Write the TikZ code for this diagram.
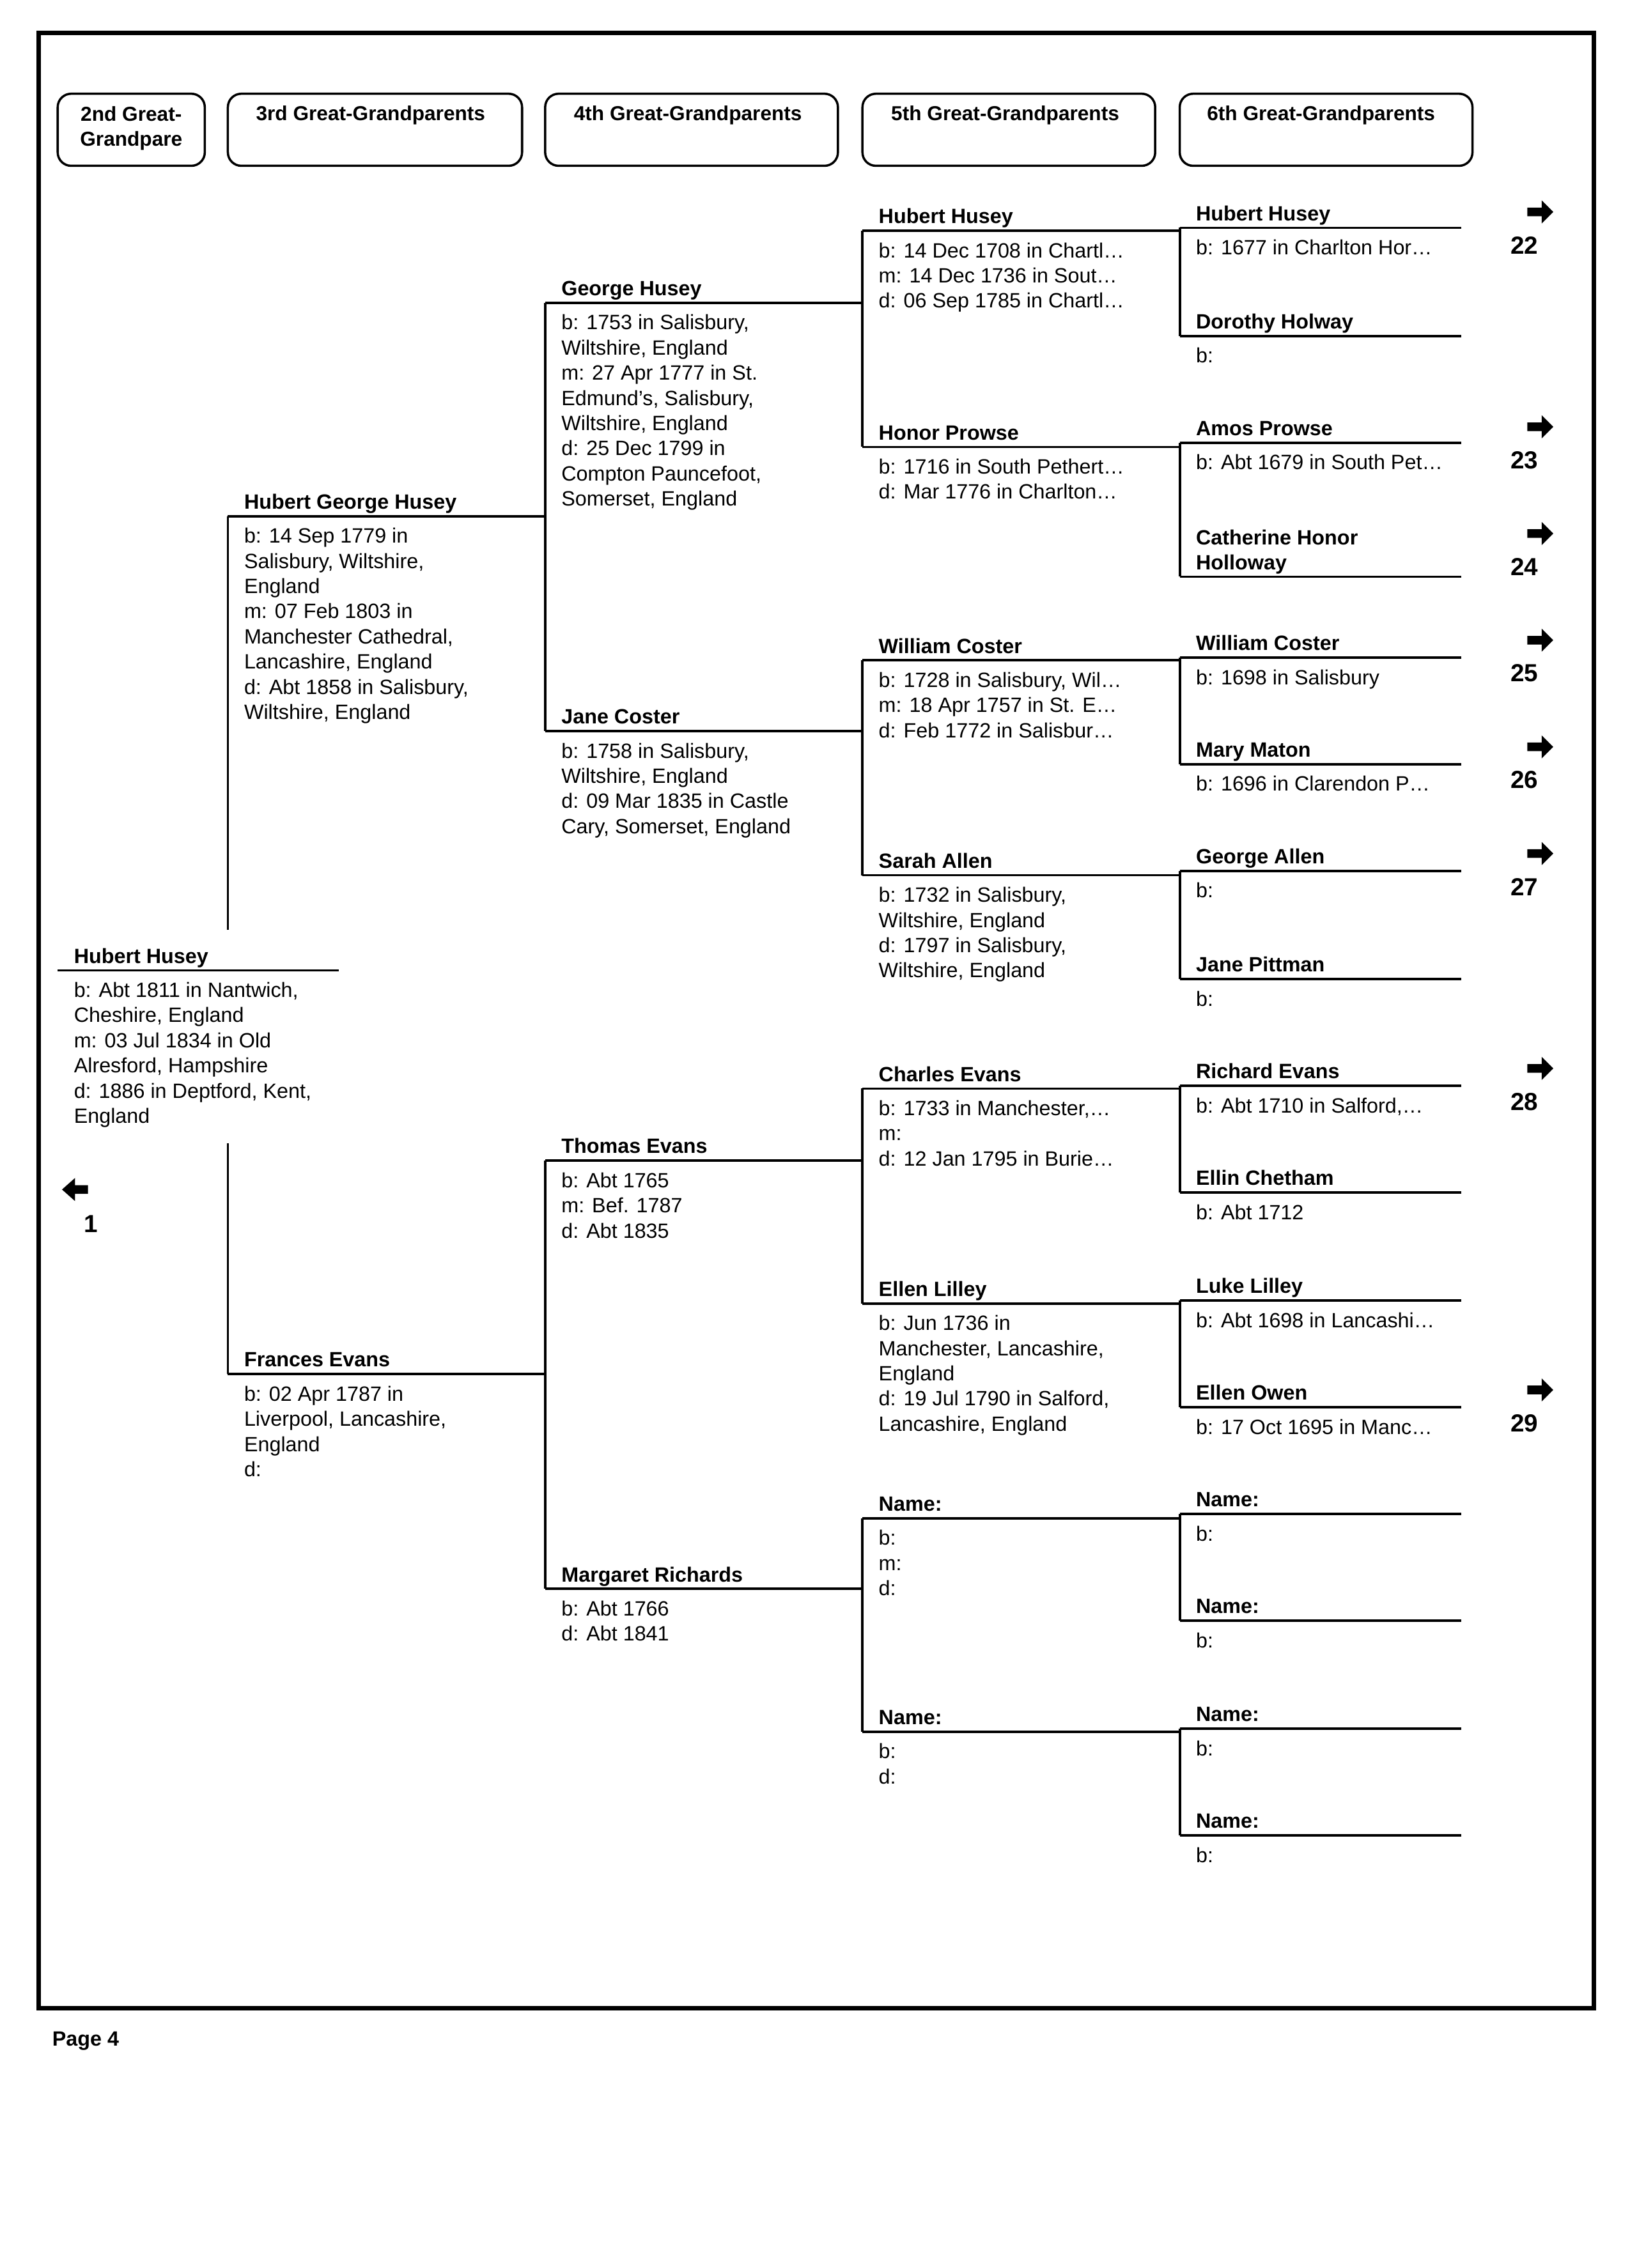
\documentclass[tikz,border=0pt]{standalone}
\usepackage{fontspec}
\setmainfont{Liberation Sans}
\usetikzlibrary{positioning}

% one person: id, left x, right x, line y, name, details
\newcommand\prsn[6]{%
  \coordinate (#1-l) at (#2,#4);
  \coordinate (#1-r) at (#3,#4);
  \draw[pline] (#1-l) -- (#1-r);
  \node[pname] (#1-n) at (#2+11,#4-5) {#5};
  \node[pinfo] (#1-i) at (#2+11,#4+8) {#6};}
% continuation arrow with page number
\newcommand\contarrow[3]{%
  \fill (#2-9,#3-3) -- (#2+1,#3-3) -- (#2+1,#3-8) -- (#2+9,#3) -- (#2+1,#3+8)
    -- (#2+1,#3+3) -- (#2-9,#3+3) -- cycle;
  \node[pnum] (pg#1) at (#2-11,#3+23) {#1};}

\tikzset{
  pline/.style={line width=1.1pt},
  pname/.style={anchor=base west, inner sep=0pt, font=\fontsize{9.2}{11.2}\selectfont\bfseries},
  pinfo/.style={anchor=north west, inner sep=0pt, align=left, font=\fontsize{9.2}{11.2}\selectfont},
  pnum/.style={inner sep=0pt, font=\fontsize{11}{13}\selectfont\bfseries},
  hbox/.style={draw, line width=1pt, rounded corners=6pt},
  htext/.style={inner sep=0pt, align=center, font=\fontsize{9}{11}\selectfont\bfseries}
}

\begin{document}
\begin{tikzpicture}[x=0.02257cm, y=-0.02257cm]
\useasboundingbox (0,0) rectangle (1130,1573);
\draw[line width=2pt] (27,23) rectangle (1105,1393);
\node[pname] (page) at (36,1419) {Page 4};

% column headers
\draw[hbox] (40,65) rectangle (142,115);
\draw[hbox] (158,65) rectangle (362,115);
\draw[hbox] (378,65) rectangle (581,115);
\draw[hbox] (598,65) rectangle (801,115);
\draw[hbox] (818,65) rectangle (1021,115);
\node[htext] (h1) at (91,89) {2nd Great-\\Grandpare};
\node[htext] (h2) at (257,80) {3rd Great-Grandparents};
\node[htext] (h3) at (477,80) {4th Great-Grandparents};
\node[htext] (h4) at (697,80) {5th Great-Grandparents};
\node[htext] (h5) at (916,80) {6th Great-Grandparents};

% generation 1
\prsn{p1}{40}{235}{673}{Hubert Husey}{b: Abt 1811 in Nantwich,\\Cheshire, England\\m: 03 Jul 1834 in Old\\Alresford, Hampshire\\d: 1886 in Deptford, Kent,\\England}
\fill (43,825) -- (52,817) -- (52,822) -- (61,822) -- (61,828) -- (52,828) -- (52,833) -- cycle;
\node[pnum] (pg1) at (63,849) {1};

% generation 2
\prsn{p2}{158}{378}{358}{Hubert George Husey}{b: 14 Sep 1779 in\\Salisbury, Wiltshire,\\England\\m: 07 Feb 1803 in\\Manchester Cathedral,\\Lancashire, England\\d: Abt 1858 in Salisbury,\\Wiltshire, England}
\prsn{p3}{158}{378}{953}{Frances Evans}{b: 02 Apr 1787 in\\Liverpool, Lancashire,\\England\\d:}
\coordinate (g1a) at (158,645);
\coordinate (g1b) at (158,793);
\draw[pline] (g1a) -- (p2-l);
\draw[pline] (g1b) -- (p3-l);

% generation 3
\prsn{p4}{378}{598}{210}{George Husey}{b: 1753 in Salisbury,\\Wiltshire, England\\m: 27 Apr 1777 in St.\\Edmund's, Salisbury,\\Wiltshire, England\\d: 25 Dec 1799 in\\Compton Pauncefoot,\\Somerset, England}
\prsn{p5}{378}{598}{507}{Jane Coster}{b: 1758 in Salisbury,\\Wiltshire, England\\d: 09 Mar 1835 in Castle\\Cary, Somerset, England}
\prsn{p6}{378}{598}{805}{Thomas Evans}{b: Abt 1765\\m: Bef. 1787\\d: Abt 1835}
\prsn{p7}{378}{598}{1102}{Margaret Richards}{b: Abt 1766\\d: Abt 1841}
\draw[pline] (p4-l) -- (p5-l);
\draw[pline] (p6-l) -- (p7-l);

% generation 4
\prsn{p8}{598}{818}{160}{Hubert Husey}{b: 14 Dec 1708 in Chartl…\\m: 14 Dec 1736 in Sout…\\d: 06 Sep 1785 in Chartl…}
\prsn{p9}{598}{818}{310}{Honor Prowse}{b: 1716 in South Pethert…\\d: Mar 1776 in Charlton…}
\prsn{p10}{598}{818}{458}{William Coster}{b: 1728 in Salisbury, Wil…\\m: 18 Apr 1757 in St. E…\\d: Feb 1772 in Salisbur…}
\prsn{p11}{598}{818}{607}{Sarah Allen}{b: 1732 in Salisbury,\\Wiltshire, England\\d: 1797 in Salisbury,\\Wiltshire, England}
\prsn{p12}{598}{818}{755}{Charles Evans}{b: 1733 in Manchester,…\\m:\\d: 12 Jan 1795 in Burie…}
\prsn{p13}{598}{818}{904}{Ellen Lilley}{b: Jun 1736 in\\Manchester, Lancashire,\\England\\d: 19 Jul 1790 in Salford,\\Lancashire, England}
\prsn{p14}{598}{818}{1053}{Name:}{b:\\m:\\d:}
\prsn{p15}{598}{818}{1201}{Name:}{b:\\d:}
\draw[pline] (p8-l) -- (p9-l);
\draw[pline] (p10-l) -- (p11-l);
\draw[pline] (p12-l) -- (p13-l);
\draw[pline] (p14-l) -- (p15-l);

% generation 5
\prsn{p16}{818}{1013}{158}{Hubert Husey}{b: 1677 in Charlton Hor…}
\prsn{p17}{818}{1013}{233}{Dorothy Holway}{b:}
\prsn{p18}{818}{1013}{307}{Amos Prowse}{b: Abt 1679 in South Pet…}
\prsn{p19}{818}{1013}{400}{Holloway}{}
\node[pname] (p19-n2) at (829,378) {Catherine Honor};
\prsn{p20}{818}{1013}{456}{William Coster}{b: 1698 in Salisbury}
\prsn{p21}{818}{1013}{530}{Mary Maton}{b: 1696 in Clarendon P…}
\prsn{p22}{818}{1013}{604}{George Allen}{b:}
\prsn{p23}{818}{1013}{679}{Jane Pittman}{b:}
\prsn{p24}{818}{1013}{753}{Richard Evans}{b: Abt 1710 in Salford,…}
\prsn{p25}{818}{1013}{827}{Ellin Chetham}{b: Abt 1712}
\prsn{p26}{818}{1013}{902}{Luke Lilley}{b: Abt 1698 in Lancashi…}
\prsn{p27}{818}{1013}{976}{Ellen Owen}{b: 17 Oct 1695 in Manc…}
\prsn{p28}{818}{1013}{1050}{Name:}{b:}
\prsn{p29}{818}{1013}{1124}{Name:}{b:}
\prsn{p30}{818}{1013}{1199}{Name:}{b:}
\prsn{p31}{818}{1013}{1273}{Name:}{b:}
\draw[pline] (p16-l) -- (p17-l);
\draw[pline] (p18-l) -- (p19-l);
\draw[pline] (p20-l) -- (p21-l);
\draw[pline] (p22-l) -- (p23-l);
\draw[pline] (p24-l) -- (p25-l);
\draw[pline] (p26-l) -- (p27-l);
\draw[pline] (p28-l) -- (p29-l);
\draw[pline] (p30-l) -- (p31-l);

% continuation pages
\contarrow{22}{1068}{147}
\contarrow{23}{1068}{296}
\contarrow{24}{1068}{370}
\contarrow{25}{1068}{444}
\contarrow{26}{1068}{518}
\contarrow{27}{1068}{592}
\contarrow{28}{1068}{741}
\contarrow{29}{1068}{964}
\end{tikzpicture}
\end{document}
